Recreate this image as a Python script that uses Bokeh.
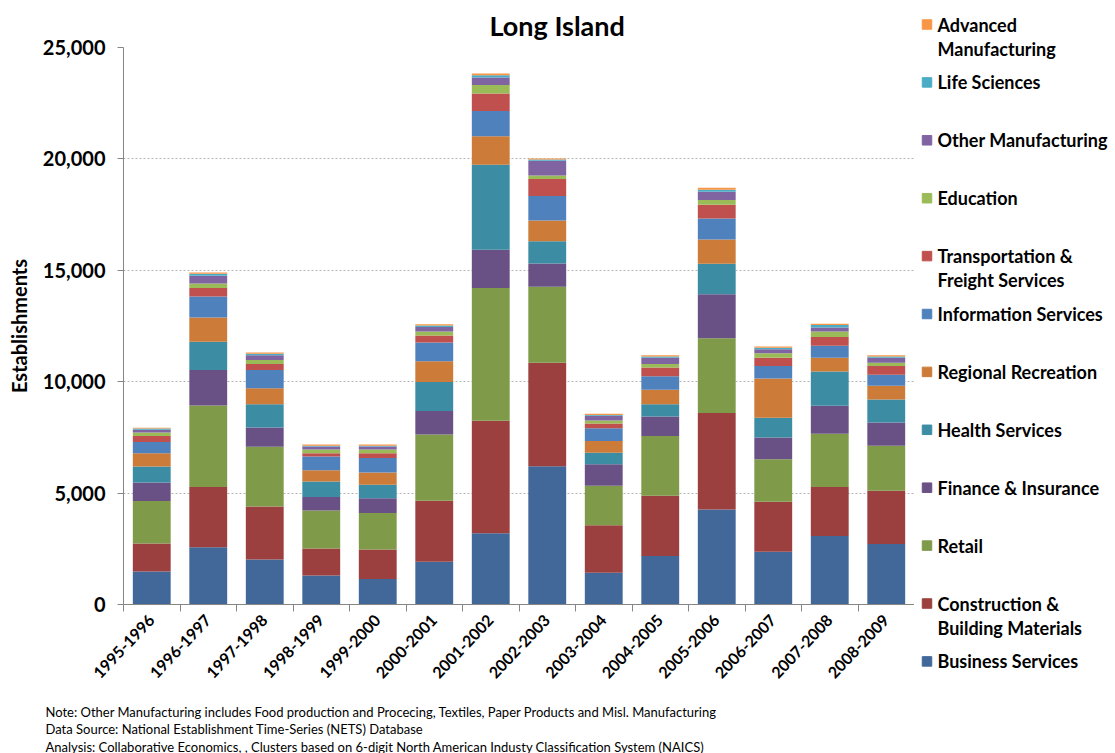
from bokeh.plotting import figure
from bokeh.layouts import column, row
from bokeh.models import ColumnDataSource, Range1d, FixedTicker, NumeralTickFormatter
from bokeh.core.properties import value
from bokeh.embed import file_html
from bokeh.resources import INLINE

# ---- data: establishments by cluster, Long Island ----
years = ["1995-1996", "1996-1997", "1997-1998", "1998-1999", "1999-2000", "2000-2001", "2001-2002",
         "2002-2003", "2003-2004", "2004-2005", "2005-2006", "2006-2007", "2007-2008", "2008-2009"]

business_services = [1480, 2570, 2020, 1300, 1140, 1920, 3200, 6200, 1430, 2180, 4260, 2370, 3070, 2720]
construction      = [1260, 2700, 2380, 1210, 1330, 2740, 5050, 4650, 2130, 2700, 4340, 2240, 2200, 2380]
retail            = [1910, 3660, 2680, 1710, 1640, 2970, 5950, 3410, 1770, 2680, 3350, 1910, 2390, 2020]
finance           = [830, 1600, 860, 600, 660, 1050, 1720, 1040, 960, 880, 1980, 980, 1260, 1050]
health            = [710, 1260, 1050, 700, 600, 1310, 3820, 1000, 520, 550, 1360, 880, 1540, 1030]
recreation        = [600, 1090, 720, 510, 550, 930, 1280, 930, 530, 650, 1090, 1760, 610, 620]
information       = [500, 940, 810, 610, 660, 840, 1130, 1100, 570, 610, 940, 560, 540, 490]
transportation    = [270, 380, 280, 150, 210, 310, 790, 770, 210, 390, 620, 370, 400, 390]
education         = [160, 210, 170, 170, 170, 180, 380, 150, 140, 160, 210, 210, 240, 150]
other_mfg         = [120, 340, 220, 130, 130, 210, 330, 670, 210, 270, 370, 180, 180, 220]
life_sciences     = [60, 90, 70, 30, 30, 60, 110, 50, 40, 60, 90, 60, 110, 60]
advanced_mfg      = [30, 60, 50, 60, 60, 60, 70, 50, 50, 60, 90, 60, 60, 60]

y_ticks = [0, 5000, 10000, 15000, 20000, 25000]

# series, bottom of the stack to top
series = [
    ("business", "Business Services", business_services, "#416899"),
    ("construction", "Construction &\nBuilding Materials", construction, "#9B403E"),
    ("retail", "Retail", retail, "#7F9A48"),
    ("finance", "Finance & Insurance", finance, "#6A5185"),
    ("health", "Health Services", health, "#3C8DA3"),
    ("recreation", "Regional Recreation", recreation, "#CC7B38"),
    ("information", "Information Services", information, "#4F81BD"),
    ("transportation", "Transportation &\nFreight Services", transportation, "#C0504D"),
    ("education", "Education", education, "#9BBB59"),
    ("other_mfg", "Other Manufacturing", other_mfg, "#8064A2"),
    ("life_sciences", "Life Sciences", life_sciences, "#4BACC6"),
    ("advanced_mfg", "Advanced\nManufacturing", advanced_mfg, "#F79646"),
]

title = "Long Island"
notes = [
    "Note: Other Manufacturing includes Food production  and Procecing, Textiles, Paper Products  and Misl. Manufacturing",
    "Data Source: National Establishment Time-Series (NETS) Database",
    "Analysis: Collaborative Economics, , Clusters based on 6-digit North American Industy Classification System (NAICS)",
]

FONT = "Lato"
W, H = 1115, 753
CHART_W, CHART_H = 914, 700          # chart panel; legend to its right, notes below
LEFT, TOP, BOTTOM = 123, 47, 604     # frame edges on the page
Y_MAX = 25000
n = len(years)

# ---------------- stacked bar chart ----------------
centers = [i + 0.5 for i in range(n)]
data = {"x": centers}
for key, _, vals, _ in series:
    data[key] = vals
source = ColumnDataSource(data)

p = figure(width=CHART_W, height=CHART_H, output_backend="svg", toolbar_location=None,
           x_range=Range1d(0, n), y_range=Range1d(0, Y_MAX),
           min_border_left=LEFT, min_border_right=0,
           min_border_top=TOP, min_border_bottom=CHART_H - BOTTOM)
p.outline_line_color = None
p.border_fill_color = "white"

p.vbar_stack([s[0] for s in series], x="x", width=0.67, source=source,
             color=[s[3] for s in series], line_color=None)

p.title.text = title
p.title.align = "left"
p.title.offset = 366
p.title.vertical_align = "top"
p.title.standoff = 7
p.title.text_font = FONT
p.title.text_font_style = "bold"
p.title.text_font_size = "27px"
p.title.text_color = "black"

# x axis: labels at bar centres, tick marks between categories
p.xaxis.ticker = FixedTicker(ticks=centers, minor_ticks=list(range(n + 1)))
p.xaxis.major_label_overrides = {c: y for c, y in zip(centers, years)}
p.xaxis.major_tick_out = 0
p.xaxis.major_tick_in = 0
p.xaxis.minor_tick_out = 7
p.xaxis.minor_tick_in = 0
p.xaxis.minor_tick_line_color = "#868686"
p.xaxis.axis_line_color = "#868686"
p.xaxis.major_label_orientation = 0.81
p.xaxis.major_label_text_font = FONT
p.xaxis.major_label_text_font_style = "bold"
p.xaxis.major_label_text_font_size = "16px"
p.xaxis.major_label_text_color = "black"
p.xaxis.major_label_standoff = 6

# y axis
p.yaxis.ticker = FixedTicker(ticks=y_ticks)
p.yaxis.formatter = NumeralTickFormatter(format="0,0")
p.yaxis.minor_tick_line_color = None
p.yaxis.major_tick_out = 6
p.yaxis.major_tick_in = 0
p.yaxis.major_tick_line_color = "#868686"
p.yaxis.axis_line_color = "#868686"
p.yaxis.major_label_text_font = FONT
p.yaxis.major_label_text_font_style = "bold"
p.yaxis.major_label_text_font_size = "20px"
p.yaxis.major_label_text_color = "black"
p.yaxis.major_label_standoff = 12
p.yaxis.axis_label = "Establishments"
p.yaxis.axis_label_text_font = FONT
p.yaxis.axis_label_text_font_style = "bold"
p.yaxis.axis_label_text_font_size = "20px"
p.yaxis.axis_label_text_color = "black"
p.yaxis.axis_label_standoff = 9

p.xgrid.grid_line_color = None
p.ygrid.grid_line_color = "#B4B4B4"
p.ygrid.grid_line_dash = "2 2"
p.ygrid.grid_line_width = 1


def blank_panel(w, h):
    """A figure whose data coordinates equal its pixel coordinates (y down)."""
    f = figure(width=w, height=h, output_backend="svg", toolbar_location=None,
               x_range=Range1d(0, w), y_range=Range1d(h, 0), min_border=0)
    f.axis.visible = False
    f.grid.visible = False
    f.outline_line_color = None
    f.border_fill_color = "white"
    return f


# ---------------- legend (top entry first) ----------------
leg = blank_panel(W - CHART_W, CHART_H)
legend_top, legend_step, line_step = 24, 57.9, 24
sq = {"x": [], "y": [], "color": []}
txt = {"x": [], "y": [], "text": []}
for i, (_, name, _, color) in enumerate(reversed(series)):
    yc = legend_top + i * legend_step
    sq["x"].append(12.5)
    sq["y"].append(yc)
    sq["color"].append(color)
    for j, line in enumerate(name.split("\n")):
        txt["x"].append(23)
        txt["y"].append(yc + j * line_step)
        txt["text"].append(line)
leg.rect(x="x", y="y", width=9.5, height=9.5, color="color", source=ColumnDataSource(sq))
leg.text(x="x", y="y", text="text", source=ColumnDataSource(txt), text_baseline="middle",
         text_align="left", text_font=value(FONT), text_font_style="bold",
         text_font_size="18px", text_color="black")

# ---------------- source notes ----------------
foot = blank_panel(W, H - CHART_H)
foot.text(x=[45] * len(notes), y=[11 + k * 17.5 for k in range(len(notes))], text=notes,
          text_baseline="middle", text_align="left", text_font=value(FONT),
          text_font_size="13px", text_color="black")

layout = column(row(p, column(leg)), foot)
open("out.html", "w").write(file_html(layout, INLINE))
